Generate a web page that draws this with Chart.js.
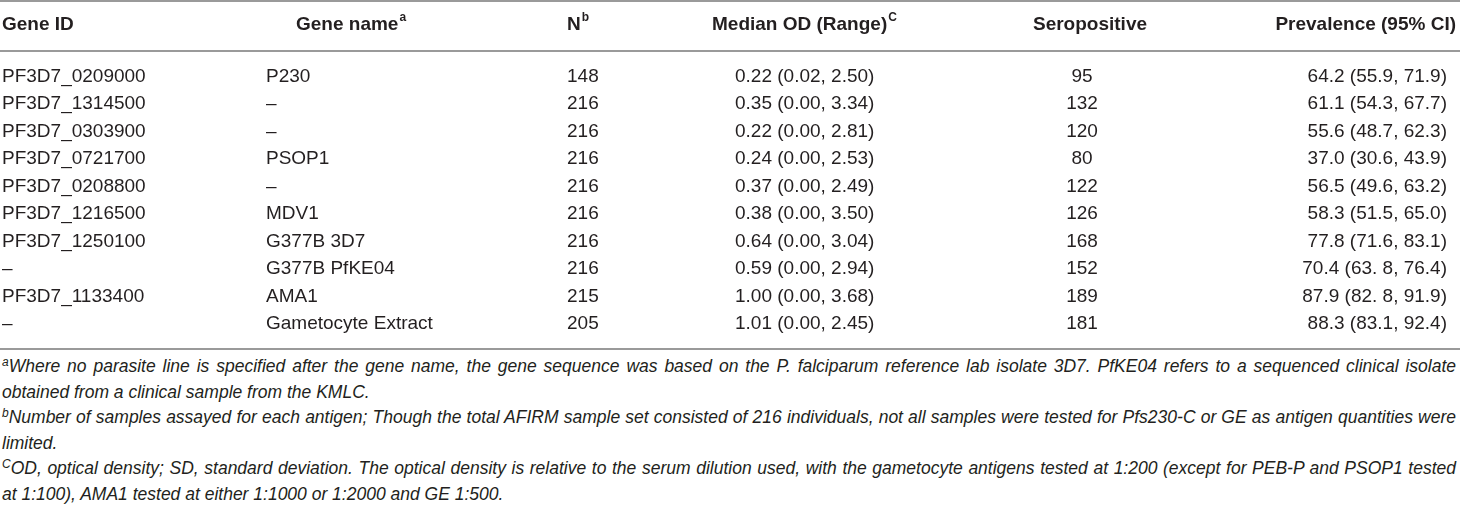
<!DOCTYPE html>
<html lang="en">
<head>
    <meta charset="UTF-8">
    <title>Antigen seroprevalence</title>
    <script src="https://cdn.jsdelivr.net/npm/chart.js"></script>
    <style>
        html, body {
            margin: 0;
            padding: 0;
            background: #fff;
        }
        body {
            width: 1460px;
            height: 508px;
            overflow: hidden;
            font-family: "Liberation Sans", Arial, sans-serif;
            color: #231f20;
            position: relative;
        }
        #tableChart {
            position: absolute;
            left: 0;
            top: 0;
        }
        .notes {
            position: absolute;
            left: 2px;
            top: 354px;
            width: 1454px;
            font-style: italic;
            font-size: 17.5px;
            line-height: 25.6px;
        }
        .notes div {
            white-space: nowrap;
        }
        .notes span.line {
            display: inline-block;
        }
        .notes sup {
            font-size: 12px;
            vertical-align: 6px;
            line-height: 0;
        }
    </style>
</head>
<body>
    <canvas id="tableChart" width="1460" height="354"></canvas>
    <div class="notes" id="notes">
        <div class="full"><span class="line"><sup>a</sup>Where no parasite line is specified after the gene name, the gene sequence was based on the P. falciparum reference lab isolate 3D7. PfKE04 refers to a sequenced clinical isolate</span></div>
        <div><span class="line">obtained from a clinical sample from the KMLC.</span></div>
        <div class="full"><span class="line"><sup>b</sup>Number of samples assayed for each antigen; Though the total AFIRM sample set consisted of 216 individuals, not all samples were tested for Pfs230-C or GE as antigen quantities were</span></div>
        <div><span class="line">limited.</span></div>
        <div class="full"><span class="line"><sup>C</sup>OD, optical density; SD, standard deviation. The optical density is relative to the serum dilution used, with the gametocyte antigens tested at 1:200 (except for PEB-P and PSOP1 tested</span></div>
        <div><span class="line">at 1:100), AMA1 tested at either 1:1000 or 1:2000 and GE 1:500.</span></div>
    </div>

    <script>
        // table values
        const geneIds = ['PF3D7_0209000', 'PF3D7_1314500', 'PF3D7_0303900', 'PF3D7_0721700', 'PF3D7_0208800',
                         'PF3D7_1216500', 'PF3D7_1250100', '–', 'PF3D7_1133400', '–'];
        const geneNames = ['P230', '–', '–', 'PSOP1', '–', 'MDV1', 'G377B 3D7', 'G377B PfKE04', 'AMA1', 'Gametocyte Extract'];
        const sampleN = [148, 216, 216, 216, 216, 216, 216, 216, 215, 205];
        const medianOD = [0.22, 0.35, 0.22, 0.24, 0.37, 0.38, 0.64, 0.59, 1.00, 1.01];
        const odMin = [0.02, 0.00, 0.00, 0.00, 0.00, 0.00, 0.00, 0.00, 0.00, 0.00];
        const odMax = [2.50, 3.34, 2.81, 2.53, 2.49, 3.50, 3.04, 2.94, 3.68, 2.45];
        const seropositive = [95, 132, 120, 80, 122, 126, 168, 152, 189, 181];
        const prevalence = ['64.2', '61.1', '55.6', '37.0', '56.5', '58.3', '77.8', '70.4', '87.9', '88.3'];
        const ciLow = ['55.9', '54.3', '48.7', '30.6', '49.6', '51.5', '71.6', '63. 8', '82. 8', '83.1'];
        const ciHigh = ['71.9', '67.7', '62.3', '43.9', '63.2', '65.0', '83.1', '76.4', '91.9', '92.4'];

        const columnHeads = ['Gene ID', 'Gene name', 'N', 'Median OD (Range)', 'Seropositive', 'Prevalence (95% CI)'];
        const headMarks = ['', 'a', 'b', 'C', '', ''];

        // cell text per column
        const cellText = [
            geneIds,
            geneNames,
            sampleN.map(String),
            medianOD.map((m, i) => m.toFixed(2) + ' (' + odMin[i].toFixed(2) + ', ' + odMax[i].toFixed(2) + ')'),
            seropositive.map(String),
            prevalence.map((p, i) => p + ' (' + ciLow[i] + ', ' + ciHigh[i] + ')')
        ];

        // layout: column anchors (x in px units of the x scale) and row geometry
        const colLayout = [
            { x: 2, align: 'left', hx: 2, hAlign: 'left' },
            { x: 266, align: 'left', hx: 296, hAlign: 'left' },
            { x: 567, align: 'left', hx: 567, hAlign: 'left' },
            { x: 735, align: 'left', hx: 712, hAlign: 'left' },
            { x: 1082, align: 'center', hx: 1090, hAlign: 'center' },
            { x: 1447, align: 'right', hx: 1456, hAlign: 'right' }
        ];
        const ROW_H = 27.5;       // px per row
        const FIRST_ROW = 76.5;   // px centre of first row
        const CANVAS_H = 354;
        const yAt = px => (px - FIRST_ROW) / ROW_H;
        const HEAD_Y = yAt(25);
        const RULES = [yAt(1), yAt(51), yAt(349)];

        const FONT = '"Liberation Sans", Arial, sans-serif';
        const INK = '#231f20';

        function drawWithMark(ctx, text, mark, x, y, align, bold) {
            const mainFont = (bold ? 'bold ' : '') + '19px ' + FONT;
            const supFont = (bold ? 'bold ' : '') + '12px ' + FONT;
            ctx.font = mainFont;
            const w1 = ctx.measureText(text).width;
            ctx.font = supFont;
            const w2 = mark ? ctx.measureText(mark).width + 1 : 0;
            const total = w1 + w2;
            let x0 = x;
            if (align === 'center') x0 = x - total / 2;
            if (align === 'right') x0 = x - total;
            ctx.textAlign = 'left';
            ctx.textBaseline = 'middle';
            ctx.fillStyle = INK;
            ctx.font = mainFont;
            ctx.fillText(text, x0, y);
            if (mark) {
                ctx.font = supFont;
                ctx.fillText(mark, x0 + w1 + 1, y - 7);
            }
        }

        const tablePlugin = {
            id: 'tablePlugin',
            beforeDatasetsDraw(chart) {
                const { ctx, chartArea, scales } = chart;
                ctx.save();
                ctx.strokeStyle = '#9a9a9a';
                ctx.lineWidth = 2;
                RULES.forEach(v => {
                    const py = scales.y.getPixelForValue(v);
                    ctx.beginPath();
                    ctx.moveTo(chartArea.left, py);
                    ctx.lineTo(chartArea.right, py);
                    ctx.stroke();
                });
                // header row
                const hy = scales.y.getPixelForValue(HEAD_Y);
                columnHeads.forEach((h, c) => {
                    const hx = scales.x.getPixelForValue(colLayout[c].hx);
                    drawWithMark(ctx, h, headMarks[c], hx, hy, colLayout[c].hAlign, true);
                });
                ctx.restore();
            },
            afterDatasetsDraw(chart) {
                const ctx = chart.ctx;
                ctx.save();
                chart.data.datasets.forEach((ds, c) => {
                    const meta = chart.getDatasetMeta(c);
                    meta.data.forEach((el, i) => {
                        drawWithMark(ctx, ds.cells[i], '', el.x, el.y, ds.align, false);
                    });
                });
                ctx.restore();
            }
        };

        const datasets = cellText.map((cells, c) => ({
            label: columnHeads[c],
            cells: cells,
            align: colLayout[c].align,
            data: cells.map((_, i) => ({ x: colLayout[c].x, y: i })),
            pointRadius: 0,
            pointHoverRadius: 0,
            showLine: false
        }));

        new Chart(document.getElementById('tableChart').getContext('2d'), {
            type: 'scatter',
            data: { datasets: datasets },
            options: {
                responsive: false,
                animation: false,
                events: [],
                layout: { padding: 0 },
                plugins: {
                    legend: { display: false },
                    tooltip: { enabled: false }
                },
                scales: {
                    x: { type: 'linear', min: 0, max: 1460, display: false },
                    y: { type: 'linear', reverse: true, min: yAt(0), max: yAt(CANVAS_H), display: false }
                }
            },
            plugins: [tablePlugin]
        });

        // justify the full footnote lines to the table width
        const target = 1454;
        document.querySelectorAll('#notes div.full span.line').forEach(span => {
            const text = span.textContent;
            const gaps = (text.match(/ /g) || []).length;
            const natural = span.getBoundingClientRect().width;
            if (gaps > 0) span.style.wordSpacing = ((target - natural) / gaps) + 'px';
        });
    </script>
</body>
</html>
